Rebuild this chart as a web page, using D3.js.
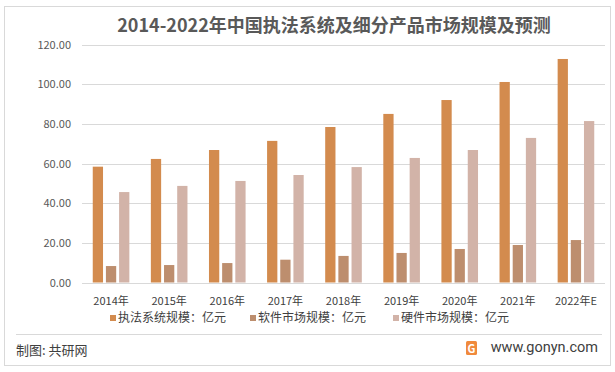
<!DOCTYPE html>
<html>
<head>
<meta charset="utf-8">
<script src="https://cdn.jsdelivr.net/npm/d3@7"></script>
<style>
	body { margin: 0; background: #fff; }
	svg { display: block; font-family: "Noto Sans CJK SC", "Microsoft YaHei", sans-serif; }
</style>
</head>
<body>
<div id="chart"></div>
<script>
const years = ['2014年', '2015年', '2016年', '2017年', '2018年', '2019年', '2020年', '2021年', '2022年E'];
const seriesNames = ['执法系统规模：亿元', '软件市场规模：亿元', '硬件市场规模：亿元'];
const systemValues = [58.4, 62.3, 66.8, 71.4, 78.4, 85.0, 92.0, 101.1, 112.7];
const softwareValues = [8.3, 8.8, 9.8, 11.5, 13.4, 14.9, 16.9, 18.9, 21.4];
const hardwareValues = [45.6, 48.7, 51.2, 54.2, 58.2, 62.8, 66.8, 72.9, 81.4];
const yTicks = [0, 20, 40, 60, 80, 100, 120];

const colors = ['#d38b4e', '#bd8e6e', '#d2b3a8'];

const width = 615, height = 372;
const margin = { top: 44.5, right: 10, bottom: 89.5, left: 82 };

const svg = d3.select('#chart')
	.append('svg')
	.attr('width', width)
	.attr('height', height);

// outer frame
svg.append('rect')
	.attr('x', 4.5).attr('y', 6.5)
	.attr('width', 606).attr('height', 359)
	.attr('fill', '#fff')
	.attr('stroke', '#d9d9d9');

svg.append('text')
	.attr('x', 334).attr('y', 32)
	.attr('text-anchor', 'middle')
	.attr('font-size', 18)
	.attr('font-weight', 'bold')
	.attr('fill', '#595959')
	.text('2014-2022年中国执法系统及细分产品市场规模及预测');

let x = d3.scaleBand()
	.domain(years)
	.range([margin.left, width - margin.right])
	.paddingInner(0.37)
	.paddingOuter(0.185);

let xSub = d3.scaleBand()
	.domain([0, 1, 2])
	.range([0, x.bandwidth()])
	.paddingInner(0.22);

let y = d3.scaleLinear()
	.domain([0, 120])
	.range([height - margin.bottom, margin.top]);

// grid
svg.append('g')
	.selectAll('line')
	.data(yTicks)
	.enter()
	.append('line')
	.attr('x1', margin.left)
	.attr('x2', width - margin.right)
	.attr('y1', (d) => Math.round(y(d)) + .5)
	.attr('y2', (d) => Math.round(y(d)) + .5)
	.attr('stroke', '#d9d9d9')
	.attr('stroke-width', 1);

svg.append('g')
	.selectAll('text')
	.data(yTicks)
	.enter()
	.append('text')
	.attr('x', 71)
	.attr('y', (d) => y(d) + 4)
	.attr('text-anchor', 'end')
	.attr('font-size', 11)
	.attr('fill', '#595959')
	.text((d) => d.toFixed(2));

let series = [systemValues, softwareValues, hardwareValues];

series.forEach((values, i) => {
	svg.append('g')
		.selectAll('rect')
		.data(values)
		.enter()
		.append('rect')
		.attr('x', (d, j) => x(years[j]) + xSub(i))
		.attr('y', (d) => y(d))
		.attr('width', xSub.bandwidth())
		.attr('height', (d) => y(0) - y(d))
		.attr('fill', colors[i]);
});

svg.append('g')
	.selectAll('text')
	.data(years)
	.enter()
	.append('text')
	.attr('x', (d) => x(d) + x.bandwidth() / 2)
	.attr('y', 305)
	.attr('text-anchor', 'middle')
	.attr('font-size', 11)
	.attr('fill', '#404040')
	.text((d) => d);

// legend
let legendX = [110, 250, 393];
let legend = svg.append('g')
	.selectAll('g')
	.data(seriesNames)
	.enter()
	.append('g')
	.attr('transform', (d, i) => `translate(${legendX[i]}, 322)`);

legend.append('rect')
	.attr('x', 0).attr('y', -7)
	.attr('width', 6).attr('height', 6)
	.attr('fill', (d, i) => colors[i]);

legend.append('text')
	.attr('x', 8).attr('y', 0)
	.attr('font-size', 12)
	.attr('fill', '#404040')
	.text((d) => d);

svg.append('line')
	.attr('x1', 16).attr('x2', 602)
	.attr('y1', 334.5).attr('y2', 334.5)
	.attr('stroke', '#d9d9d9');

svg.append('text')
	.attr('x', 16).attr('y', 355)
	.attr('font-size', 13)
	.attr('fill', '#404040')
	.text('制图: 共研网');

// logo
let logo = svg.append('g').attr('transform', 'translate(466, 341)');
logo.append('rect')
	.attr('width', 11).attr('height', 14)
	.attr('rx', 1.5)
	.attr('fill', '#f08a3c');
logo.append('text')
	.attr('x', 5.5).attr('y', 11.5)
	.attr('text-anchor', 'middle')
	.attr('font-size', 11)
	.attr('font-weight', 'bold')
	.attr('fill', '#fff')
	.text('G');

svg.append('text')
	.attr('x', 598).attr('y', 352)
	.attr('text-anchor', 'end')
	.attr('font-family', 'Roboto, sans-serif')
	.attr('font-size', 14.5)
	.attr('fill', '#404040')
	.text('www.gonyn.com');
</script>
</body>
</html>
